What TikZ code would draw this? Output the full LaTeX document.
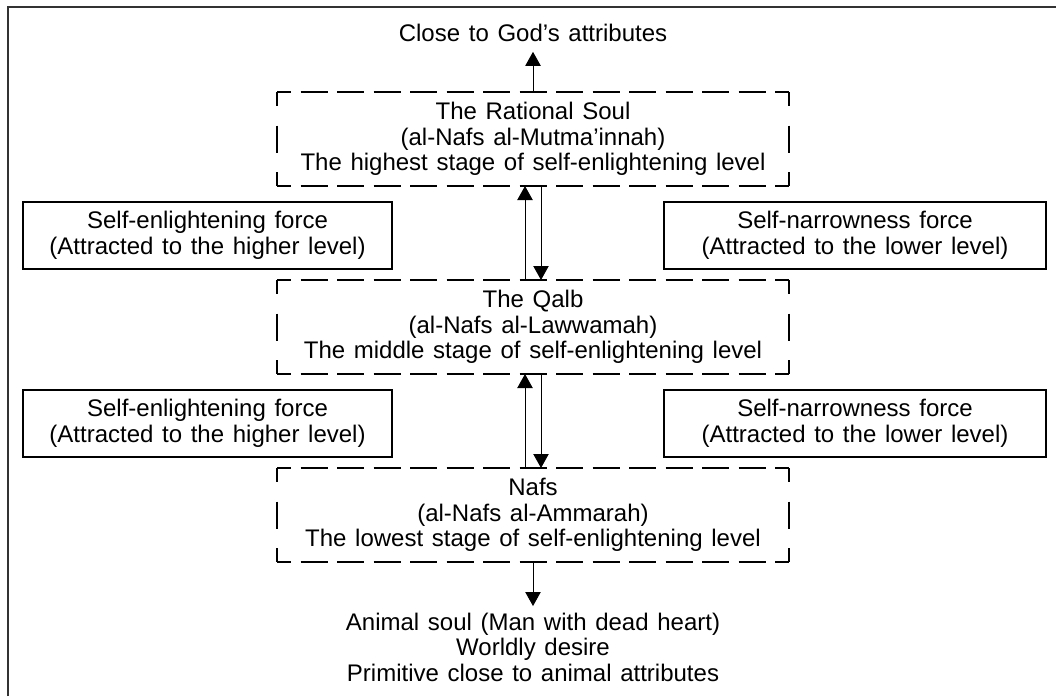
\documentclass[tikz,border=0pt]{standalone}
\usepackage{fontspec}
\setmainfont[WordSpace=1.3]{Liberation Sans}
\usetikzlibrary{arrows.meta}
\begin{document}
\begin{tikzpicture}[x=0.75pt,y=-0.75pt,
  every node/.style={font=\fontsize{18pt}{19.1pt}\selectfont, align=center, inner sep=0pt, outer sep=0pt},
  stage/.style={minimum width=384pt, minimum height=70.5pt},
  hdash/.style={line width=0.8pt, dash pattern=on 20.25pt off 7.125pt, dash phase=9.75pt},
  vdash/.style={line width=0.8pt, dash pattern=on 20.25pt off 14.625pt, dash phase=9.75pt},
  force/.style={draw, line width=0.9pt, minimum height=50.25pt},
  arr/.style={line width=0.75pt, -{Triangle[width=11.5pt,length=10.5pt]}},
  frame/.style={line width=1.5pt, draw=black!80}
]
\useasboundingbox (0,0) rectangle (1056,696);
\draw[frame] (8,696) -- (8,7) -- (1056,7);

\node[inner sep=7.5pt] (god) at (533,33) {Close to God’s attributes};

\node[stage] (b1) at (533,139) {The Rational Soul\\(al-Nafs al-Mutma’innah)\\The highest stage of self-enlightening level};
\node[stage] (b2) at (533,327) {The Qalb\\(al-Nafs al-Lawwamah)\\The middle stage of self-enlightening level};
\node[stage] (b3) at (533,515) {Nafs\\(al-Nafs al-Ammarah)\\The lowest stage of self-enlightening level};

\foreach \b in {b1,b2,b3}{
  \draw[hdash] (\b.north west) -- (\b.north east);
  \draw[hdash] (\b.south west) -- (\b.south east);
  \draw[vdash] (\b.north west) -- (\b.south west);
  \draw[vdash] (\b.north east) -- (\b.south east);
}

\node[force, minimum width=276.75pt] (l1) at (207.5,235.5) {Self-enlightening force\\(Attracted to the higher level)};
\node[force, minimum width=286.5pt] (r1) at (855,235.5) {Self-narrowness force\\(Attracted to the lower level)};
\node[force, minimum width=276.75pt] (l2) at (207.5,423.5) {Self-enlightening force\\(Attracted to the higher level)};
\node[force, minimum width=286.5pt] (r2) at (855,423.5) {Self-narrowness force\\(Attracted to the lower level)};

\node[inner sep=5pt] (animal) at (533,647) {Animal soul (Man with dead heart)\\Worldly desire\\Primitive close to animal attributes};

\draw[arr] (b1.north) -- (god.south);
\draw[arr] ([xshift=-6pt]b2.north) -- ([xshift=-6pt]b1.south);
\draw[arr] ([xshift=6pt]b1.south) -- ([xshift=6pt]b2.north);
\draw[arr] ([xshift=-6pt]b3.north) -- ([xshift=-6pt]b2.south);
\draw[arr] ([xshift=6pt]b2.south) -- ([xshift=6pt]b3.north);
\draw[arr] (b3.south) -- (animal.north);
\end{tikzpicture}
\end{document}
